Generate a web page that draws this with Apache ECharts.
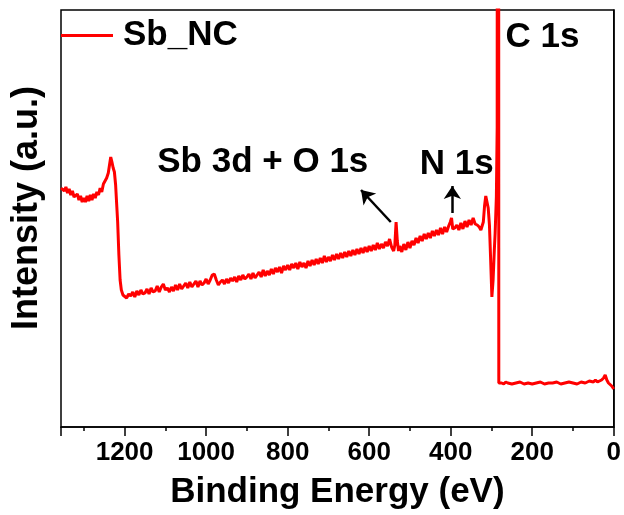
<!DOCTYPE html>
<html><head><meta charset="utf-8">
<script src="https://cdn.jsdelivr.net/npm/echarts@6/dist/echarts.min.js"></script>
<style>html,body{margin:0;padding:0;background:#fff}#c{width:624px;height:515px}</style>
</head><body><div id="c"></div>
<script>
// Binding energy (eV) and intensity (a.u.)
const energy = [
 1356,1352,1348,1344,1340,1336,1332,1328,1324,1320,1316,1312,1308,1304,1300,1296,1292,1288,1284,1280,
 1276,1272,1268,1264,1260,1256,1252,1248,1244,1240,1237,1234,1231,1228,1225,1222,1220,1217,1214,1211,
 1208,1204,1200,
 1195,1190,1185,1180,1175,1170,1165,1160,1155,1150,1145,1140,1135,1130,1125,1120,1115,1110,1105,1100,
 1095,1090,1085,1080,1075,1070,1065,1060,1055,1050,1045,1040,1035,1030,1025,1020,1015,1010,1005,1000,
 995,990,985,980,975,970,965,960,955,950,945,940,935,930,925,920,915,910,905,900,
 895,890,885,880,875,870,865,860,855,850,845,840,835,830,825,820,815,810,805,800,
 795,790,785,780,775,770,765,760,755,750,745,740,735,730,725,720,715,710,705,700,
 695,690,685,680,675,670,665,660,655,650,645,640,635,630,625,620,615,610,605,600,
 595,590,585,580,575,570,565,560,555,550,545,
 540,537,534,531,528,525,520,515,510,505,500,495,490,485,480,475,470,465,460,455,
 450,445,440,435,430,425,420,415,410,405,401,398,395,390,385,380,375,370,365,360,
 355,350,345,340,335,330,326,323,320,317,314,311,308,305,302,299,296,293,291,288,
 286,284,282,280,275,270,265,260,250,240,230,220,210,200,190,180,170,160,150,140,
 130,120,110,100,90,80,70,60,50,45,40,35,30,25,21,17,13,9,5,0
];
const intensity = [
 239,241,236,240,234,238,232,236,230,229,233,227,231,225,229,225,231,226,232,227,
 233,229,235,232,239,235,243,245,249,254,262,270,265,259,255,242,227,205,172,147,
 137,132,133,
 129,133,131,135,130,136,132,137,133,134,138,133,139,135,136,141,135,140,143,137,
 139,135,140,136,142,137,143,138,141,144,139,145,140,143,146,140,146,142,144,148,
 143,147,152,153,147,142,145,147,143,148,144,149,146,150,145,151,147,152,148,150,
 153,148,154,149,152,155,150,157,151,156,152,158,153,159,155,160,154,161,157,162,
 157,163,159,164,158,165,160,164,159,166,161,167,162,168,163,169,164,171,165,170,
 166,172,167,173,168,174,169,175,170,176,171,177,172,178,173,179,174,180,175,181,
 176,182,177,184,178,183,179,185,181,188,180,
 176,182,205,186,176,181,175,183,177,185,179,186,182,189,184,191,186,193,188,194,
 189,196,191,197,192,199,193,200,195,201,205,209,198,199,202,197,204,198,206,200,
 207,202,209,203,202,200,197,199,205,221,231,229,219,202,167,130,147,177,194,230,
 300,3000,44,44,44,43,45,44,43,44,45,43,44,43,44,45,43,44,44,45,
 43,44,45,44,43,45,44,46,45,47,45,46,47,49,52,47,44,43,41,38
];
const xMin = 0, xMax = 1356, majorStep = 200, minorStep = 100;
const yMin = 0, yMax = 417;
const seriesName = 'Sb_NC';
const annotationTexts = ['Sb 3d + O 1s', 'N 1s', 'C 1s'];
const annotationPos = [[861, 265], [385, 263], [175, 390]];
const arrowFrom = [[547, 205], [396, 214]];
const arrowTo = [[620, 237], [396, 241]];

const FONT = "'Liberation Sans', Arial, sans-serif";
const chart = echarts.init(document.getElementById('c'), null, {renderer: 'canvas'});
chart.setOption({
  animation: false,
  backgroundColor: '#fff',
  grid: {left: 61, right: 9, top: 10, bottom: 88, show: true, borderColor: '#000', borderWidth: 1.5, backgroundColor: 'transparent'},
  legend: {
    data: [{name: seriesName, icon: 'path://M0,0 L52,0 L52,3 L0,3 Z'}],
    left: 61, top: 18, padding: 0, itemWidth: 52, itemHeight: 3,
    itemStyle: {color: '#ff0000'},
    textStyle: {fontSize: 35, fontWeight: 'bold', color: '#000', fontFamily: FONT, padding: [0, 0, 0, 5]}
  },
  xAxis: [{
    type: 'value', min: xMin, max: xMax, interval: majorStep, inverse: true,
    axisLine: {show: true, lineStyle: {color: '#000', width: 1.5}},
    axisTick: {show: true, length: 9, lineStyle: {color: '#000', width: 1.5}},
    axisLabel: {fontSize: 26, fontWeight: 'bold', color: '#000', fontFamily: FONT, margin: 13,
      formatter: v => (v % majorStep === 0 ? String(v) : '')},
    splitLine: {show: false},
    name: 'Binding Energy (eV)', nameLocation: 'middle', nameGap: 48,
    nameTextStyle: {fontSize: 35, fontWeight: 'bold', color: '#000', fontFamily: FONT}
  }, {
    type: 'value', min: xMin, max: xMax, interval: minorStep, inverse: true, position: 'bottom',
    axisLine: {show: false},
    axisTick: {show: true, length: 4, lineStyle: {color: '#000', width: 1.5}},
    axisLabel: {show: false}, splitLine: {show: false}
  }],
  yAxis: {
    type: 'value', min: yMin, max: yMax,
    axisLine: {show: true, lineStyle: {color: '#000', width: 1.5}},
    axisTick: {show: false}, axisLabel: {show: false}, splitLine: {show: false}
  },
  graphic: [{
    type: 'text', x: 27, y: 208, rotation: Math.PI / 2,
    style: {text: 'Intensity (a.u.)', font: "bold 36px 'Liberation Sans', Arial, sans-serif", fill: '#000',
      textAlign: 'center', textVerticalAlign: 'middle'}
  }],
  series: [{
    name: seriesName, type: 'line', xAxisIndex: 0,
    data: energy.map((e, i) => [e, intensity[i]]),
    symbol: 'none', showSymbol: false,
    lineStyle: {color: '#ff0000', width: 3}, itemStyle: {color: '#ff0000'},
    markPoint: {
      symbol: 'circle', symbolSize: 1, silent: true,
      itemStyle: {color: 'rgba(0,0,0,0)'},
      label: {show: true, position: 'inside', formatter: '{b}', color: '#000', fontSize: 35, fontWeight: 'bold', fontFamily: FONT},
      data: annotationTexts.map((t, i) => ({name: t, coord: annotationPos[i]}))
    },
    markLine: {
      silent: true, symbol: ['none', 'arrow'], symbolSize: 13,
      lineStyle: {color: '#000', width: 2.5, type: 'solid'},
      label: {show: false},
      data: arrowFrom.map((p, i) => [{coord: p}, {coord: arrowTo[i]}])
    }
  }]
});
</script></body></html>
